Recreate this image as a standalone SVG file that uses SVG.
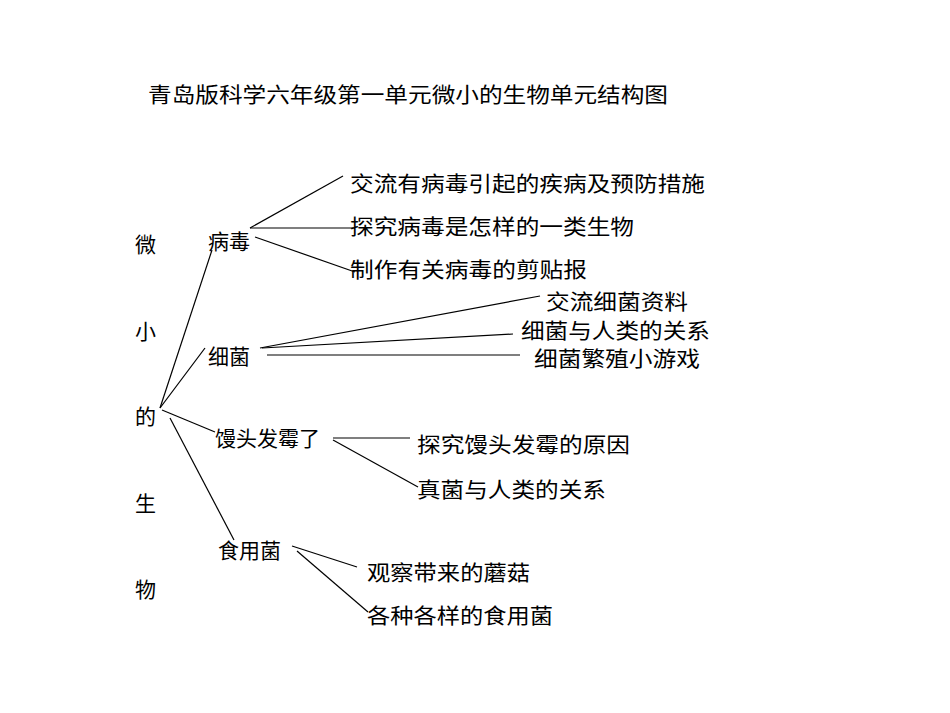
<svg xmlns="http://www.w3.org/2000/svg" width="950" height="713" viewBox="0 0 950 713">
<style>
text{font-family:"Noto Sans CJK SC","Liberation Sans",sans-serif;font-size:21px;fill:#000;dominant-baseline:central}
.l line{stroke:#000;stroke-width:1.2}
</style>
<rect width="950" height="713" fill="#fff"/>
<text id="title" x="148" y="93" textLength="520" lengthAdjust="spacingAndGlyphs">青岛版科学六年级第一单元微小的生物单元结构图</text>
<g id="root"><text x="135" y="243">微</text><text x="135" y="330">小</text><text x="135" y="415">的</text><text x="135" y="502">生</text><text x="135" y="588">物</text></g>
<g id="n1"><text x="208" y="240">病毒</text></g>
<g id="n2"><text x="208" y="355">细菌</text></g>
<g id="n3"><text x="215" y="437">馒头发霉了</text></g>
<g id="n4"><text x="218" y="549">食用菌</text></g>
<g id="l1"><text x="350" y="182" textLength="355" lengthAdjust="spacingAndGlyphs">交流有病毒引起的疾病及预防措施</text></g>
<g id="l2"><text x="350" y="225" textLength="284" lengthAdjust="spacingAndGlyphs">探究病毒是怎样的一类生物</text></g>
<g id="l3"><text x="350" y="268" textLength="237" lengthAdjust="spacingAndGlyphs">制作有关病毒的剪贴报</text></g>
<g id="l4"><text x="546" y="300" textLength="142" lengthAdjust="spacingAndGlyphs">交流细菌资料</text></g>
<g id="l5"><text x="521" y="329" textLength="189" lengthAdjust="spacingAndGlyphs">细菌与人类的关系</text></g>
<g id="l6"><text x="534" y="357" textLength="166" lengthAdjust="spacingAndGlyphs">细菌繁殖小游戏</text></g>
<g id="l7"><text x="417" y="443" textLength="213" lengthAdjust="spacingAndGlyphs">探究馒头发霉的原因</text></g>
<g id="l8"><text x="417" y="488" textLength="189" lengthAdjust="spacingAndGlyphs">真菌与人类的关系</text></g>
<g id="l9"><text x="367" y="571" textLength="163" lengthAdjust="spacingAndGlyphs">观察带来的蘑菇</text></g>
<g id="l10"><text x="367" y="614" textLength="186" lengthAdjust="spacingAndGlyphs">各种各样的食用菌</text></g>
<g id="connectors" class="l">
<line x1="160" y1="408" x2="212" y2="250"/>
<line x1="160" y1="408" x2="205" y2="348"/>
<line x1="162" y1="410" x2="215" y2="432"/>
<line x1="170" y1="418" x2="234" y2="540"/>
<line x1="250" y1="228" x2="343" y2="176"/>
<line x1="250" y1="228" x2="353" y2="228"/>
<line x1="255" y1="237" x2="355" y2="272"/>
<line x1="260" y1="348" x2="540" y2="296"/>
<line x1="262" y1="348" x2="513" y2="334"/>
<line x1="267" y1="355" x2="520" y2="355"/>
<line x1="333" y1="438" x2="410" y2="438"/>
<line x1="333" y1="440" x2="418" y2="487"/>
<line x1="292" y1="546" x2="357" y2="567"/>
<line x1="297" y1="551" x2="368" y2="612"/>
</g>
</svg>
